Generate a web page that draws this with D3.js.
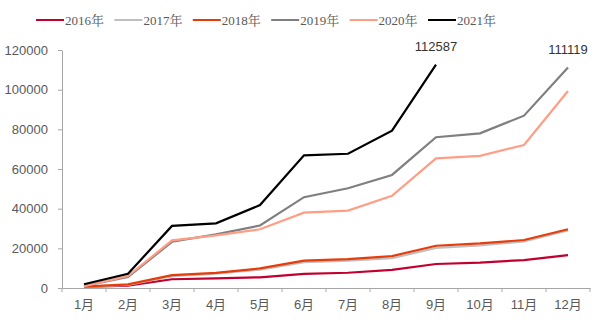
<!DOCTYPE html>
<html><head><meta charset="utf-8">
<script src="https://cdn.jsdelivr.net/npm/d3@7/dist/d3.min.js"></script>
<style>body{margin:0;background:#fff}svg{display:block}</style>
</head><body>
<svg id="c" width="600" height="324"></svg>
<script>
const months = ["1月","2月","3月","4月","5月","6月","7月","8月","9月","10月","11月","12月"];
const yTicks = [0,20000,40000,60000,80000,100000,120000];
const seriesNames = ["2016年","2017年","2018年","2019年","2020年","2021年"];
const seriesColors = ["#C0002F","#BFBFBF","#E63C0A","#7F7F7F","#FF9E86","#000000"];
const v2016 = [500,1200,4400,4900,5400,7100,7700,9100,12100,12800,14100,16600];
const v2017 = [600,1500,6000,7200,9300,13000,13800,15000,20200,21500,23500,29000];
const v2018 = [700,1800,6500,7600,9900,13800,14600,16100,21300,22500,24200,29600];
const v2019 = [1000,5500,23300,27000,31500,45800,50300,57000,76000,78000,86900,111119];
const v2020 = [900,6000,24000,26500,29600,38000,39000,46500,65400,66600,72100,99300];
const v2021 = [1900,7200,31300,32600,41800,66900,67700,79300,112587];
const allSeries = [v2016,v2017,v2018,v2019,v2020,v2021];
const labels = [{series:5, idx:8, text:"112587"},{series:3, idx:11, text:"111119"}];

const svg = d3.select("#c");
const x = d3.scaleBand().domain(months).range([62,590]);
const y = d3.scaleLinear().domain([0,120000]).range([288,50]);

const yAxis = svg.append("g").attr("transform","translate(62,0)")
  .call(d3.axisLeft(y).tickValues(yTicks).tickFormat(d3.format("d")).tickSize(4).tickPadding(10).tickSizeOuter(0));
const xAxis = svg.append("g").attr("transform","translate(0,288)")
  .call(d3.axisBottom(x).tickSize(4).tickPadding(8).tickSizeOuter(0));
xAxis.selectAll(".tick line").remove();
const bounds = d3.range(13).map(i=>62+i*x.step());
xAxis.selectAll("line.b").data(bounds).enter().append("line").attr("class","b")
  .attr("x1",d=>d).attr("x2",d=>d).attr("y1",0).attr("y2",4).attr("stroke","#A6A6A6");
[yAxis,xAxis].forEach(g=>{
  g.selectAll(".domain").attr("stroke","#A6A6A6");
  g.selectAll(".tick line").attr("stroke","#A6A6A6");
  g.selectAll("text").attr("fill","#595959").style("font-family","Liberation Sans, Arial, 'Noto Sans CJK SC', sans-serif").style("font-size","13px");
});

const line = d3.line().x((d,i)=>x(months[i])+x.bandwidth()/2).y(d=>y(d));
allSeries.forEach((s,k)=>{
  svg.append("path").datum(s).attr("d",line).attr("fill","none")
    .attr("stroke",seriesColors[k]).attr("stroke-width",2.2).attr("stroke-linejoin","miter");
});

labels.forEach(l=>{
  const v = allSeries[l.series][l.idx];
  svg.append("text").attr("x",x(months[l.idx])+x.bandwidth()/2).attr("y",y(v)-14)
    .attr("text-anchor","middle").attr("fill","#333")
    .style("font-family","Liberation Sans, Arial, sans-serif").style("font-size","13px").text(l.text);
});

const leg = svg.append("g");
seriesNames.forEach((n,k)=>{
  const lx = 36 + k*78.4;
  leg.append("line").attr("x1",lx).attr("x2",lx+28).attr("y1",20).attr("y2",20)
    .attr("stroke",seriesColors[k]).attr("stroke-width",2);
  leg.append("text").attr("x",lx+29).attr("y",24.5).attr("fill","#595959")
    .style("font-family","Liberation Serif, 'Times New Roman', 'Noto Serif CJK SC', 'Noto Sans CJK SC', serif").style("font-size","13px").text(n);
});
</script>
</body></html>
